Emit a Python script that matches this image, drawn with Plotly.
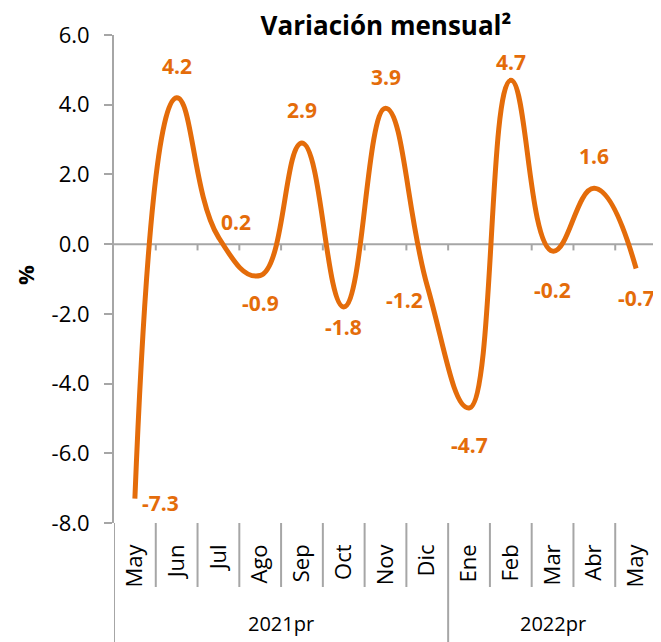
import plotly.graph_objects as go

# ---- data ----
months = ["May", "Jun", "Jul", "Ago", "Sep", "Oct", "Nov", "Dic",
          "Ene", "Feb", "Mar", "Abr", "May"]
values = [-7.3, 4.2, 0.2, -0.9, 2.9, -1.8, 3.9, -1.2, -4.7, 4.7, -0.2, 1.6, -0.7]
years = ["2021pr", "2022pr"]
year_counts = [8, 5]
y_ticks = [-8, -6, -4, -2, 0, 2, 4, 6]

# label offsets in pixels (styling)
label_dx = [26, 0, 18, 0, 0, 0, 0, -23, 0, 0, 0, 0, 0]
label_dy = [-4, 32, 15, -27, 33, -20, 31, -14, -37, 18, -39, 32, -29]

ORANGE = "#E46C0A"
GRAY = "#A6A6A6"
FONT = "Open Sans"

xs = list(range(len(months)))

fig = go.Figure()
fig.add_trace(go.Scatter(
    x=xs, y=values, mode="lines",
    line=dict(color=ORANGE, width=5, shape="spline", smoothing=1.3),
    hoverinfo="skip", showlegend=False,
))

# data labels
for i, v in enumerate(values):
    fig.add_annotation(
        x=xs[i], y=v, text=f"{v:.1f}", showarrow=False,
        xanchor="center", yanchor="middle",
        xshift=label_dx[i], yshift=label_dy[i],
        font=dict(family=FONT, size=21, color=ORANGE, weight="bold"),
    )

shapes = []
n = len(months)
# zero axis line
shapes.append(dict(type="line", xref="x", yref="y", x0=-0.5, x1=n - 0.5, y0=0, y1=0,
                   line=dict(color=GRAY, width=2), layer="below"))
# ticks on zero line
for k in range(1, n + 1):
    shapes.append(dict(type="line", xref="x", yref="y", x0=k - 0.5, x1=k - 0.5,
                       y0=0, y1=-0.18, line=dict(color=GRAY, width=2), layer="below"))

# separators below plot
py_short = -64 / 488
py_long = -119 / 488
boundaries_long = {0}
acc = 0
for c in year_counts:
    acc += c
    boundaries_long.add(acc)
for k in range(0, n + 1):
    y1 = py_long if k in boundaries_long else py_short
    shapes.append(dict(type="line", xref="x", yref="paper", x0=k - 0.5, x1=k - 0.5,
                       y0=0, y1=y1, line=dict(color=GRAY, width=2)))

# year group labels
start = 0
for yname, c in zip(years, year_counts):
    center = start + (c - 1) / 2
    fig.add_annotation(x=center, xref="x", y=-100 / 488, yref="paper",
                       xanchor="center", yanchor="middle",
                       text=yname, showarrow=False,
                       font=dict(family=FONT, size=20, color="black"))
    start += c

# y-axis title
fig.add_annotation(x=-89 / 543, xref="paper", y=0.508, yref="paper", text="%",
                   textangle=-90, showarrow=False, xanchor="center", yanchor="middle",
                   font=dict(family=FONT, size=22, color="black", weight="bold"))

fig.update_layout(
    width=653, height=634,
    margin=dict(l=106, r=4, t=27, b=119, autoexpand=False),
    paper_bgcolor="white", plot_bgcolor="white",
    shapes=shapes,
    title=dict(text="Variación mensual²", x=378 / 653, xanchor="center",
               y=1 - 18 / 634, yanchor="middle",
               font=dict(family=FONT, size=26, color="black", weight="bold")),
    xaxis=dict(range=[-0.5, n - 0.5], tickvals=xs, ticktext=months,
               tickangle=-90, showline=False, showgrid=False, zeroline=False,
               ticks="", ticklabelstandoff=16,
               tickfont=dict(family=FONT, size=22, color="black")),
    yaxis=dict(range=[-8, 6], tickvals=y_ticks,
               ticktext=[f"{v:.1f}" for v in y_ticks],
               showline=True, linecolor=GRAY, linewidth=2,
               ticks="outside", ticklen=8, tickcolor=GRAY, tickwidth=2,
               ticklabelstandoff=10,
               showgrid=False, zeroline=False,
               tickfont=dict(family=FONT, size=22, color="black")),
)

fig.write_html("out.html")
